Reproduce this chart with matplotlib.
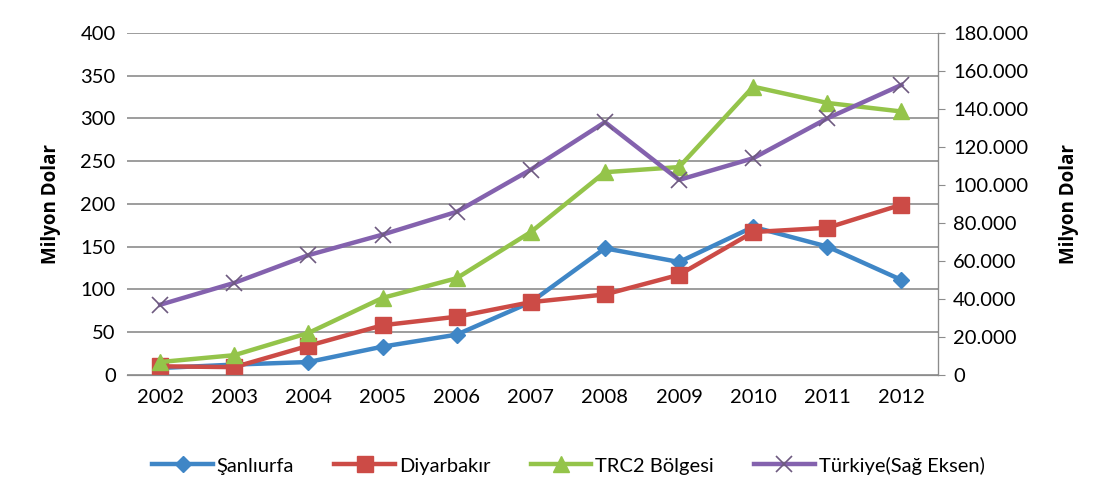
import matplotlib.pyplot as plt
from matplotlib.ticker import FuncFormatter

years = [2002, 2003, 2004, 2005, 2006, 2007, 2008, 2009, 2010, 2011, 2012]
sanliurfa = [8, 12, 15, 33, 47, 85, 148, 132, 173, 150, 111]
diyarbakir = [10, 9, 34, 58, 68, 85, 94, 117, 167, 172, 199]
trc2 = [15, 23, 49, 90, 113, 167, 237, 243, 337, 318, 308]
turkiye = [36900, 48400, 63000, 73800, 85800, 108000, 133000, 102600, 114000, 135000, 152600]

plt.rcParams['font.family'] = ['Lato', 'DejaVu Sans']

fig = plt.figure(figsize=(10.93, 4.9), dpi=100)
ax = fig.add_axes([0.116, 0.235, 0.742, 0.698])
ax2 = ax.twinx()

l1, = ax.plot(years, sanliurfa, color='#3F86C6', lw=3.2, marker='D', ms=8, label='Şanlıurfa', zorder=3)
l2, = ax.plot(years, diyarbakir, color='#CC4B46', lw=3.2, marker='s', ms=11, label='Diyarbakır', zorder=3)
l3, = ax.plot(years, trc2, color='#94C44A', lw=3.2, marker='^', ms=11, label='TRC2 Bölgesi', zorder=3)
l4, = ax2.plot(years, turkiye, color='#8462AE', lw=3.2, marker='x', ms=12, mec='#6E5A80', mew=1.2,
               label='Türkiye(Sağ Eksen)')

ax.set_xlim(2001.55, 2012.49)
ax.set_ylim(0, 400)
ax2.set_ylim(0, 180000)
ax.set_yticks(range(0, 401, 50))
ax2.set_yticks(range(0, 180001, 20000))
ax.set_xticks(years)
ax2.yaxis.set_major_formatter(FuncFormatter(lambda v, p: '0' if v == 0 else f'{int(v):,}'.replace(',', '.')))

ax.grid(axis='y', color='#8C8C8C', lw=1.2)
ax.set_axisbelow(True)
for a in (ax, ax2):
    a.spines['top'].set_visible(False)
    a.spines['left'].set_visible(False)
    a.spines['bottom'].set_color('#8C8C8C')
ax2.spines['right'].set_color('#8C8C8C')
ax.tick_params(axis='y', length=0, labelsize=14.5, pad=8)
ax.tick_params(axis='x', length=0, labelsize=14.5, pad=10)
ax2.tick_params(axis='y', length=5, color='#8C8C8C', labelsize=14.5, pad=6)

lab = dict(fontsize=13.5, fontweight='bold', family=['Open Sans', 'DejaVu Sans'])
ax.set_ylabel('Milyon Dolar', labelpad=14, **lab)
ax2.set_ylabel('Milyon Dolar', labelpad=22, **lab)

fig.legend(handles=[l1, l2, l3, l4], loc='center', bbox_to_anchor=(0.52, 0.05), ncol=4,
           frameon=False, fontsize=14.5, handlelength=3, columnspacing=2.0, handletextpad=0.2)

fig.savefig('out.png', dpi=100)
